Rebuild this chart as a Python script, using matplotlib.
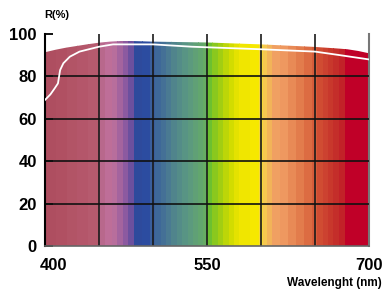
import matplotlib.pyplot as plt
from matplotlib.patches import Polygon
from matplotlib.transforms import ScaledTranslation

# outer edge of the coloured area (R %)
top_nm = [400, 410, 420, 430, 440, 450, 460, 470, 480, 500, 550, 600, 650, 670, 680, 690, 700]
top_r = [91.4, 92.6, 93.6, 94.4, 95.2, 95.9, 96.4, 96.7, 96.7, 96.4, 96.0, 95.1, 93.9, 93.2, 92.8, 92.0, 90.9]

# measured curve (white line)
line_nm = [400, 405, 409, 412, 414, 417, 423, 432, 450, 463, 500, 536, 600, 650, 672, 700]
line_r = [68.9, 71.5, 74.4, 76.7, 83.0, 86.2, 89.3, 91.7, 94.0, 95.1, 95.1, 94.0, 92.8, 91.7, 90.1, 88.0]

# spectrum stripes: start wavelength and colour
band_nm = [400, 410, 420, 430, 440, 450, 456, 462, 467, 472, 477, 482, 490, 497, 502, 507,
           512, 517, 522, 527, 532, 537, 542, 546, 550, 555, 560, 565, 570, 575, 580, 590,
           598, 602, 606, 610, 618, 625, 632, 640, 647, 652, 657, 662, 667, 672, 678]
band_col = ['#AE4E60', '#B05062', '#B25466', '#B4566A', '#B65A6E', '#B8688C', '#BE6E98',
            '#B86E9C', '#A4649E', '#8C5AA0', '#6C509E', '#2E4A9C', '#2C4CA0', '#3A5E9C',
            '#3E6898', '#447096', '#4A7A92', '#50848C', '#548C88', '#589484', '#5C9A7E',
            '#60A076', '#62A66E', '#66AC64', '#6CC030', '#8AC81E', '#A2CE12', '#BCD608',
            '#D2DC00', '#E4E200', '#F0E600', '#F6E800', '#F6D838', '#F6C850', '#F2B458',
            '#F0A062', '#EE9860', '#E88A56', '#E27C4C', '#DC6C42', '#D65C3A', '#D04C32',
            '#CC4230', '#C8382C', '#C42E2A', '#C22228', '#C00028']
band_end = band_nm[1:] + [700]

xticks = [400, 550, 700]
yticks = [0, 20, 40, 60, 80, 100]

plt.rcParams['font.family'] = ['Liberation Sans', 'DejaVu Sans']

fig = plt.figure(figsize=(3.84, 2.92), dpi=100)
ax = fig.add_axes([45 / 384, 46 / 292, 324 / 384, 212 / 292])
ax.set_xlim(400, 700)
ax.set_ylim(0, 100)

# clip region = area under the top curve
verts = [(top_nm[0], 0)] + list(zip(top_nm, top_r)) + [(top_nm[-1], 0)]
clip = Polygon(verts, closed=True, transform=ax.transData, fill=False, lw=0)
ax.add_patch(clip)

widths = [e - s for s, e in zip(band_nm, band_end)]
bars = ax.bar(band_nm, [100] * len(band_nm), width=[w + 0.3 for w in widths],
              align='edge', color=band_col, linewidth=0, zorder=1)
for b in bars:
    b.set_clip_path(clip)

for x in [450, 500, 550, 600, 650]:
    ax.plot([x, x], [0, 100], color='#1a1a1a', lw=1.2, zorder=2)
ax.plot([700, 700], [0, 100], color='#777777', lw=1.5, zorder=2, clip_on=False)
for y in [20, 40, 60, 80]:
    ax.plot([400, 700], [y, y], color='#111111', lw=1.2, zorder=2)

ax.plot(line_nm, line_r, color='white', lw=1.3, zorder=3)

for s in ['top', 'right']:
    ax.spines[s].set_visible(False)
ax.spines['left'].set_color('black')
ax.spines['left'].set_linewidth(1.5)
ax.spines['bottom'].set_color('#666666')
ax.spines['bottom'].set_linewidth(1.2)

ax.set_xticks(xticks)
ax.set_xticklabels([str(v) for v in xticks], fontsize=12, fontweight='bold')
ax.set_yticks(yticks)
ax.set_yticklabels([str(v) for v in yticks], fontsize=12, fontweight='bold')
ax.tick_params(axis='x', length=0, pad=9)
ax.tick_params(axis='y', direction='in', length=6, width=1.3, pad=6)

# first x label sits a little right of the axis start
lab = ax.get_xticklabels()[0]
lab.set_transform(lab.get_transform() + ScaledTranslation(9 / 100, 0, fig.dpi_scale_trans))

fig.text(44 / 384, 1 - 15 / 292, 'R(%)', fontsize=8, fontweight='bold', ha='left', va='center')
fig.text(382 / 384, 1 - 283 / 292, 'Wavelenght (nm)', fontsize=8.5, fontweight='bold',
         ha='right', va='center')

fig.savefig('out.png', dpi=100)
